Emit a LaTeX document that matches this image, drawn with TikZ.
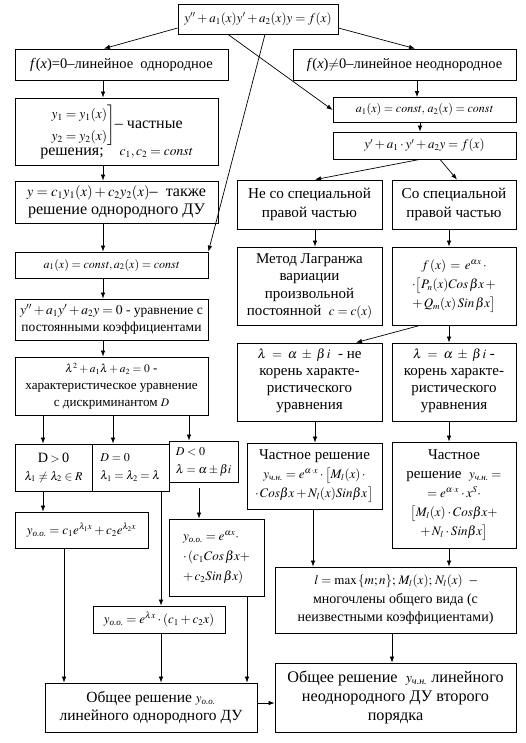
\documentclass[tikz,border=0pt]{standalone}
\usepackage{amsmath}
\usepackage{mathptmx}
\usepackage{fontspec}
\setmainfont{Liberation Serif}
\usetikzlibrary{arrows.meta,calc}
\DeclareMathSizes{12}{12}{8.5}{7}
\DeclareMathSizes{13.1}{11.5}{8}{6.5}
\DeclareMathSizes{13.5}{13.5}{9.5}{7.5}
\DeclareMathSizes{14}{13}{9}{7}
\DeclareMathSizes{14.2}{12}{8.5}{7}
\DeclareMathSizes{14.5}{13.5}{9.5}{7.5}
\DeclareMathSizes{15}{13}{9}{7}
\DeclareMathSizes{15.2}{13}{9}{7}
\DeclareMathSizes{15.5}{13}{9}{7}
\DeclareMathSizes{16}{13.5}{9.5}{7.5}
\DeclareMathSizes{16.1}{14.5}{10}{8}
\DeclareMathSizes{16.2}{14}{10}{7.5}
\newcommand\fsz[2]{\fontsize{#1}{#2}\selectfont\rmfamily}
\newcommand\oo{\text{\itshape о.о.}}
\newcommand\chn{\text{\itshape ч.н.}}
\tikzset{
  box/.style={draw, line width=0.8pt, inner sep=1pt, align=center, font=\fsz{15}{17}},
  txt/.style={inner sep=0pt, align=center},
  arr/.style={-{Latex[length=6pt,width=4.5pt]}, line width=0.7pt}
}
\begin{document}
\begin{tikzpicture}[x=1pt,y=-1pt]
\useasboundingbox[fill=white] (0,0) rectangle (526,743);
% ---------- left / top ----------
\node[box, font=\fsz{14}{16}, minimum width=160pt, minimum height=30pt] (top) at (258,19) {$y''+a_1(x)y'+a_2(x)y=f(x)$};
\node[box, font=\fsz{14.5}{16.5}, minimum width=213pt, minimum height=31pt] (A) at (121.5,64.5) {\textit{f}(\textit{x})=0–линейное~ однородное};
\node[box, font=\fsz{14.5}{16.5}, minimum width=223pt, minimum height=31pt] (B) at (404.5,64.5) {\textit{f}(\textit{x})$\neq$0–линейное неоднородное};
\node[box, font=\fsz{16}{19}, minimum width=203pt, minimum height=67pt] (C) at (116.5,131.5)
  {$\renewcommand\arraystretch{1.15}\left.\begin{array}{@{}r@{}}y_1=y_1(x)\\ y_2=y_2(x)\end{array}\right]$– частные\\ решения;\quad $c_1,c_2=\mathit{const}$};
\node[box, font=\fsz{16.1}{18.5}, minimum width=203pt, minimum height=42pt] (D) at (116.5,202)
  {$y=c_1y_1(x)+c_2y_2(x)$–~ также\\ решение однородного ДУ};
\node[box, font=\fsz{12}{14}, minimum width=193pt, minimum height=26pt] (E) at (111.5,265) {$a_1(x)=\mathit{const},a_2(x)=\mathit{const}$};
\node[box, font=\fsz{13.5}{17}, minimum width=193pt, minimum height=41pt] (F) at (111.5,319.5)
  {$y''+a_1y'+a_2y=0$ - уравнение с\\ постоянными коэффициентами};
\node[box, font=\fsz{13.1}{17}, minimum width=193pt, minimum height=58pt] (G) at (111.5,386)
  {$\lambda^2+a_1\lambda+a_2=0$ -\\ характеристическое уравнение\\ с дискриминантом $D$};
\node[box, font=\fsz{14.2}{18}, minimum width=77pt, minimum height=47pt] (H1) at (53.5,467.5) {D\,$>$\,0\\ $\lambda_1\neq\lambda_2\in R$};
\node[box, font=\fsz{14.2}{18}, minimum width=77pt, minimum height=47pt, align=left] (H2) at (130.5,467.5) {$D=0$\\ $\lambda_1=\lambda_2=\lambda$};
\node[box, font=\fsz{14.2}{18}, minimum width=69pt, minimum height=41pt, align=left] (H3) at (203.5,461.5) {$D<0$\\ $\lambda=\alpha\pm\beta i$};
\node[box, font=\fsz{14}{16}, minimum width=133pt, minimum height=36pt] (I) at (81.5,530) {$y_{\oo}=c_1e^{\lambda_1x}+c_2e^{\lambda_2x}$};
\node[box, font=\fsz{14}{20}, minimum width=95pt, minimum height=77pt, align=left] (J) at (216.5,557.5)
  {$y_{\oo}=e^{\alpha x}\cdot$\\ $\cdot\,(c_1Cos\,\beta x+$\\ $+\,c_2Sin\,\beta x)$};
\node[box, font=\fsz{14}{16}, minimum width=132pt, minimum height=27pt] (K) at (159,619.5) {$y_{\oo}=e^{\lambda x}\cdot(c_1+c_2x)$};
\node[box, font=\fsz{15.5}{18}, minimum width=212pt, minimum height=49pt] (L) at (151,707.5)
  {Общее решение $y_{\oo}$\\ линейного однородного ДУ};
% ---------- right ----------
\node[box, font=\fsz{12}{14}, minimum width=183pt, minimum height=25pt] (M) at (424.5,110) {$a_1(x)=\mathit{const},\,a_2(x)=\mathit{const}$};
\node[box, font=\fsz{14}{16}, minimum width=183pt, minimum height=27pt] (N) at (424.5,145.5) {$y'+a_1\cdot y'+a_2y=f(x)$};
\node[box, font=\fsz{15.2}{19}, minimum width=145pt, minimum height=49pt] (O) at (309.5,204.5) {Не со специальной\\ правой частью};
\node[box, font=\fsz{15.2}{19}, minimum width=124pt, minimum height=49pt] (P) at (454,204.5) {Со специальной\\ правой частью};
\node[box, font=\fsz{15}{17.5}, minimum width=145pt, minimum height=78pt] (Q) at (309.5,286)
  {Метод Лагранжа\\ вариации\\ произвольной\\ постоянной~ $c=c(x)$};
\node[box, font=\fsz{14}{19}, minimum width=124pt, minimum height=78pt] (R) at (454,286)
  {$f\,(x)\,=\,e^{\alpha x}\,\cdot$\\ $\cdot\big[P_n(x)Cos\,\beta x\,+$\\ $+\,Q_m(x)\,Sin\,\beta x\big]$};
\node[box, minimum width=145pt, minimum height=78pt] (S) at (309.5,382) {\phantom{x}};
\node[box, minimum width=124pt, minimum height=78pt] (T) at (454,382) {\phantom{x}};
\begin{scope}
  \clip (S.north west) rectangle (S.south east);
  \node[txt, font=\fsz{15}{17}, anchor=north] (St) at ($(S.north)+(0,6)$)
    {$\lambda\;=\;\alpha\;\pm\;\beta\,i$~ - не\\ корень характе-\\ ристического\\ уравнения};
\end{scope}
\begin{scope}
  \clip (T.north west) rectangle (T.south east);
  \node[txt, font=\fsz{15}{17}, anchor=north] (Tt) at ($(T.north)+(0,6)$)
    {$\lambda\;=\;\alpha\;\pm\;\beta\,i$ -\\ корень характе-\\ ристического\\ уравнения};
\end{scope}
\node[box, font=\fsz{15}{19}, minimum width=135pt, minimum height=66pt] (U) at (314.5,476)
  {Частное решение\\ $y_{\chn}=e^{\alpha\cdot x}\cdot\big[M_l(x)\,\cdot$\\ $\cdot\,Cos\beta x+N_l(x)Sin\beta x\,\big]$};
\node[box, font=\fsz{15}{19}, minimum width=124pt, minimum height=106pt] (V) at (454,495)
  {Частное\\ решение~ $y_{\chn}=$\\ $=e^{\alpha\cdot x}\cdot x^S\cdot$\\ $\big[M_l(x)\cdot Cos\beta x+$\\ $+\,N_l\cdot Sin\beta x\big]$};
\node[box, font=\fsz{14}{18.5}, minimum width=241pt, minimum height=66pt] (W) at (395.5,600)
  {$l=\max\,\{m;n\};\,M_l(x);\,N_l(x)$~ –\\ многочлены общего вида (с\\ неизвестными коэффициентами)};
\node[box, font=\fsz{16.2}{19}, minimum width=241pt, minimum height=69pt] (X) at (395.5,697.5)
  {Общее решение~ $y_{\chn}$ линейного\\ неоднородного ДУ второго\\ порядка};
% ---------- connectors ----------
\draw[arr] (top.west |- 0,28) -- (A.north -| 104,0);
\draw[arr] (top.east |- 0,28) -- (B.north -| 415,0);
\draw[arr] (top.south -| 228,0) -- (M.west);
\draw[arr] (top.south -| 265,0) -- (E.north east);
\draw[arr] (A.south -| 103,0) -- (C.north -| 103,0);
\draw[arr] (C.south -| 103,0) -- (D.north -| 103,0);
\draw[arr] (D.south -| 103,0) -- (E.north -| 103,0);
\draw[arr] (E.south -| 103,0) -- (F.north -| 103,0);
\draw[arr] (F.south -| 103,0) -- (G.north -| 103,0);
\draw[arr] (G.south -| 43,0) -- (H1.north -| 43,0);
\draw[arr] (G.south -| 113,0) -- (H2.north -| 113,0);
\draw[arr] (G.south -| 189,0) -- (H3.north -| 189,0);
\draw[arr] (H1.south -| 43,0) -- (I.north -| 43,0);
\draw[arr] (H2.south -| 161,0) -- (K.north -| 161,0);
\draw[arr] ($(H3.south -| 199,0)+(0,6)$) -- (J.north -| 199,0);
\draw[arr] (I.south -| 64,0) -- (L.north -| 64,0);
\draw[arr] (K.south -| 161,0) -- (L.north -| 161,0);
\draw[arr] (J.south -| 247,0) -- (L.north -| 247,0);
\draw[arr] (L.east |- 0,703) -- (X.west |- 0,703);
\draw[arr] (B.south -| 417,0) -- (M.north -| 417,0);
\draw[arr] (M.south -| 420,0) -- (N.north -| 420,0);
\draw[arr] (N.south -| 420,0) -- (O.north -| 315,0);
\draw[arr] (N.south -| 440,0) -- (P.north -| 457,0);
\draw[arr] (O.south -| 315,0) -- (Q.north -| 315,0);
\draw[arr] (P.south -| 449,0) -- (R.north -| 449,0);
\draw[arr] (R.south -| 420,0) -- (S.north -| 356,0);
\draw[arr] (R.south -| 449,0) -- (T.north -| 449,0);
\draw[arr] (S.south -| 315,0) -- (U.north -| 315,0);
\draw[arr] (T.south -| 449,0) -- (V.north -| 449,0);
\draw[arr] (U.south -| 313,0) -- (W.north -| 313,0);
\draw[arr] (V.south -| 449,0) -- (W.north -| 449,0);
\draw[arr] (W.south -| 392,0) -- (X.north -| 392,0);
\end{tikzpicture}
\end{document}
